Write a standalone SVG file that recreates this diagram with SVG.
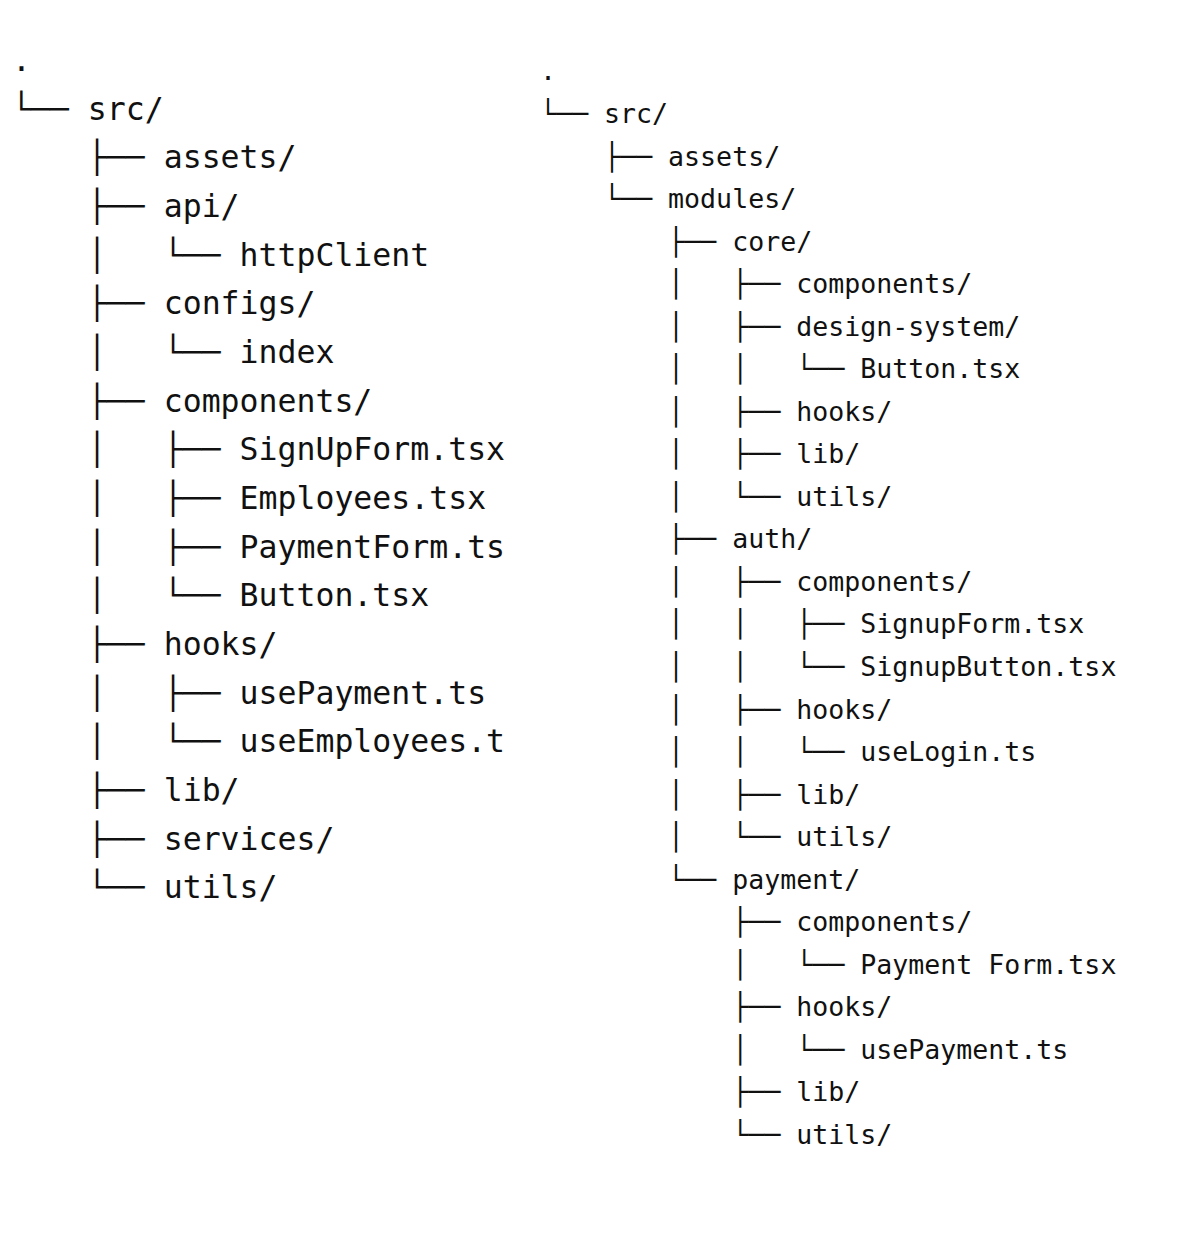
<svg xmlns="http://www.w3.org/2000/svg" width="1200" height="1256" viewBox="0 0 1200 1256">
<style>
text{font-family:"DejaVu Sans Mono","Liberation Mono",monospace;fill:#111;white-space:pre}
.l{font-size:31.5px}
.r{font-size:26.6px}
</style>
<rect width="1200" height="1256" fill="#fff"/>
<g id="left-tree" class="l">
<text class="l" xml:space="preserve" x="12" y="71">.</text>
<text class="l" xml:space="preserve" x="12" y="120">└── src/</text>
<text class="l" xml:space="preserve" x="12" y="168">    ├── assets/</text>
<text class="l" xml:space="preserve" x="12" y="217">    ├── api/</text>
<text class="l" xml:space="preserve" x="12" y="266">    │   └── httpClient</text>
<text class="l" xml:space="preserve" x="12" y="314">    ├── configs/</text>
<text class="l" xml:space="preserve" x="12" y="363">    │   └── index</text>
<text class="l" xml:space="preserve" x="12" y="412">    ├── components/</text>
<text class="l" xml:space="preserve" x="12" y="460">    │   ├── SignUpForm.tsx</text>
<text class="l" xml:space="preserve" x="12" y="509">    │   ├── Employees.tsx</text>
<text class="l" xml:space="preserve" x="12" y="558">    │   ├── PaymentForm.ts</text>
<text class="l" xml:space="preserve" x="12" y="606">    │   └── Button.tsx</text>
<text class="l" xml:space="preserve" x="12" y="655">    ├── hooks/</text>
<text class="l" xml:space="preserve" x="12" y="704">    │   ├── usePayment.ts</text>
<text class="l" xml:space="preserve" x="12" y="752">    │   └── useEmployees.t</text>
<text class="l" xml:space="preserve" x="12" y="801">    ├── lib/</text>
<text class="l" xml:space="preserve" x="12" y="850">    ├── services/</text>
<text class="l" xml:space="preserve" x="12" y="898">    └── utils/</text>
</g>
<g id="right-tree">
<text class="r" xml:space="preserve" x="540" y="80">.</text>
<text class="r" xml:space="preserve" x="540" y="123">└── src/</text>
<text class="r" xml:space="preserve" x="540" y="166">    ├── assets/</text>
<text class="r" xml:space="preserve" x="540" y="208">    └── modules/</text>
<text class="r" xml:space="preserve" x="540" y="251">        ├── core/</text>
<text class="r" xml:space="preserve" x="540" y="293">        │   ├── components/</text>
<text class="r" xml:space="preserve" x="540" y="336">        │   ├── design-system/</text>
<text class="r" xml:space="preserve" x="540" y="378">        │   │   └── Button.tsx</text>
<text class="r" xml:space="preserve" x="540" y="421">        │   ├── hooks/</text>
<text class="r" xml:space="preserve" x="540" y="463">        │   ├── lib/</text>
<text class="r" xml:space="preserve" x="540" y="506">        │   └── utils/</text>
<text class="r" xml:space="preserve" x="540" y="548">        ├── auth/</text>
<text class="r" xml:space="preserve" x="540" y="591">        │   ├── components/</text>
<text class="r" xml:space="preserve" x="540" y="633">        │   │   ├── SignupForm.tsx</text>
<text class="r" xml:space="preserve" x="540" y="676">        │   │   └── SignupButton.tsx</text>
<text class="r" xml:space="preserve" x="540" y="719">        │   ├── hooks/</text>
<text class="r" xml:space="preserve" x="540" y="761">        │   │   └── useLogin.ts</text>
<text class="r" xml:space="preserve" x="540" y="804">        │   ├── lib/</text>
<text class="r" xml:space="preserve" x="540" y="846">        │   └── utils/</text>
<text class="r" xml:space="preserve" x="540" y="889">        └── payment/</text>
<text class="r" xml:space="preserve" x="540" y="931">            ├── components/</text>
<text class="r" xml:space="preserve" x="540" y="974">            │   └── Payment Form.tsx</text>
<text class="r" xml:space="preserve" x="540" y="1016">            ├── hooks/</text>
<text class="r" xml:space="preserve" x="540" y="1059">            │   └── usePayment.ts</text>
<text class="r" xml:space="preserve" x="540" y="1101">            ├── lib/</text>
<text class="r" xml:space="preserve" x="540" y="1144">            └── utils/</text>
</g>
</svg>
